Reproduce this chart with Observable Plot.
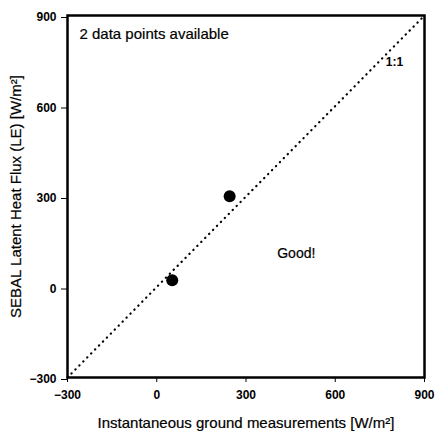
<!DOCTYPE html>
<html>
<head>
<meta charset="utf-8">
<script src="https://cdn.jsdelivr.net/npm/d3@7"></script>
<script src="https://cdn.jsdelivr.net/npm/@observablehq/plot@0.6"></script>
<style>
  html, body { margin: 0; padding: 0; background: #fff; }
  #chart svg { display: block; }
</style>
</head>
<body>
<div id="chart"></div>
<script>
// Data
const groundMeasured = [52, 245];   // Instantaneous ground measurements [W/m²]
const sebalLE = [22, 301];          // SEBAL latent heat flux (LE) [W/m²]
const ticks = [-300, 0, 300, 600, 900];
const domain = [-300, 900];
const oneToOne = [-300, 900];
const xTitle = "Instantaneous ground measurements [W/m²]";
const yTitle = "SEBAL Latent Heat Flux (LE) [W/m²]";
const noteCount = "2 data points available";
const noteGood = "Good!";
const noteLine = "1:1";

const points = groundMeasured.map((x, i) => ({x, y: sebalLE[i]}));
const line = oneToOne.map(v => ({x: v, y: v}));
const font = "'Liberation Sans', Arial, Helvetica, sans-serif";

const chart = Plot.plot({
  width: 435,
  height: 432,
  marginLeft: 67,
  marginRight: 11,
  marginTop: 15,
  marginBottom: 55,
  style: {fontFamily: font, color: "#000", background: "#fff", overflow: "visible"},
  x: {domain, ticks},
  y: {domain, ticks},
  marks: [
    Plot.line(line, {x: "x", y: "y", stroke: "#000", strokeWidth: 2.2, strokeLinecap: "round", strokeDasharray: "0.3,5.3"}),
    Plot.dot(points, {x: "x", y: "y", r: 6, fill: "#000", stroke: "none"}),
    Plot.frame({stroke: "#000", strokeWidth: 2.5}),
    Plot.axisX({ticks, tickSize: 5, tickPadding: 8, label: null, fontSize: 12, fontWeight: "bold", stroke: "#000"}),
    Plot.axisY({ticks, tickSize: 6, tickPadding: 5, dy: 2, label: null, fontSize: 12, fontWeight: "bold", stroke: "#000"}),
    Plot.text([xTitle], {frameAnchor: "bottom", dy: 50, lineAnchor: "bottom", fontSize: 15, fill: "#000", stroke: "#000", strokeWidth: 0.2}),
    Plot.text([yTitle], {frameAnchor: "left", dx: -57, rotate: -90, lineAnchor: "top", textAnchor: "middle", fontSize: 15, fill: "#000", stroke: "#000", strokeWidth: 0.2}),
    Plot.text([noteCount], {frameAnchor: "top-left", dx: 12, dy: 13, lineAnchor: "top", textAnchor: "start", fontSize: 15, fill: "#000", stroke: "#000", strokeWidth: 0.2}),
    Plot.text([noteGood], {x: 469, y: 111, fontSize: 14, fill: "#000", stroke: "#000", strokeWidth: 0.2}),
    Plot.text([noteLine], {x: 799, y: 744, fontSize: 12, fontWeight: "bold", fill: "#000"})
  ]
});
document.getElementById("chart").appendChild(chart);
</script>
</body>
</html>
